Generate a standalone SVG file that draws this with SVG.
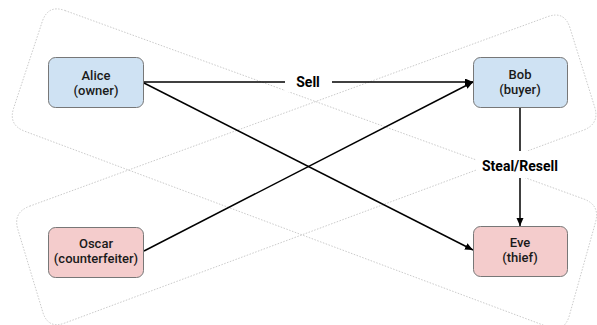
<svg xmlns="http://www.w3.org/2000/svg" width="597" height="325" viewBox="0 0 597 325">
<style>
.band{fill:none;stroke:#bdbdbd;stroke-width:0.8;stroke-dasharray:1.5,1.5}
.edge{fill:none;stroke:#000;stroke-width:1.5}
.box{stroke:#777;stroke-width:1}
.blue{fill:#cfe2f3}
.pink{fill:#f4cccc}
.t{font-family:Roboto,"Liberation Sans",Arial,sans-serif;font-size:13px;font-weight:500;fill:#1a1a1a;text-anchor:middle}
.lbl{font-family:Roboto,"Liberation Sans",Arial,sans-serif;font-size:14px;font-weight:bold;fill:#000;text-anchor:middle}
</style>
<defs>
<marker id="arr" markerUnits="userSpaceOnUse" markerWidth="9" markerHeight="8" refX="8" refY="3.5" orient="auto">
<path d="M0,0 L8,3.5 L0,7 z" fill="#000"/>
</marker>
</defs>
<g id="bands">
<path class="band" d="M64.9,10.5 L583.5,198.9 Q600.4,205 595.5,222.3 L569.3,315.7 Q564.4,333 547.5,326.7 L24.9,131.3 Q8,125 13.7,107.9 L42.3,21.5 Q48,4.4 64.9,10.5 Z"/>
<path class="band" d="M29.6,206.2 L547.6,16.7 Q564.5,10.5 569.9,27.7 L594.6,106.8 Q600,124 583.1,130.3 L64.9,323 Q48,329.3 42.8,312.1 L17.9,229.6 Q12.7,212.4 29.6,206.2 Z"/>
</g>
<g id="connectors">
<line class="edge" x1="144" y1="82" x2="473" y2="82" marker-end="url(#arr)"/>
<line class="edge" x1="144" y1="83" x2="473" y2="250" marker-end="url(#arr)"/>
<line class="edge" x1="144" y1="251" x2="473" y2="82" marker-end="url(#arr)"/>
<line class="edge" x1="520" y1="107" x2="520" y2="226" marker-end="url(#arr)"/>
<rect x="285" y="72" width="47" height="20" fill="#fff"/>
<text class="lbl" x="308" y="87">Sell</text>
<rect x="476" y="151" width="88" height="27" fill="#fff"/>
<text class="lbl" x="520" y="171">Steal/Resell</text>
</g>
<g id="alice">
<rect class="box blue" x="48.5" y="57.5" width="95" height="50" rx="7"/>
<text class="t" x="96" y="80">Alice</text>
<text class="t" x="96" y="95">(owner)</text>
</g>
<g id="bob">
<rect class="box blue" x="473.5" y="57.5" width="94" height="50" rx="7"/>
<text class="t" x="520" y="79">Bob</text>
<text class="t" x="520" y="94">(buyer)</text>
</g>
<g id="oscar">
<rect class="box pink" x="48.5" y="227.5" width="95" height="50" rx="7"/>
<text class="t" x="96" y="248">Oscar</text>
<text class="t" x="96" y="263">(counterfeiter)</text>
</g>
<g id="eve">
<rect class="box pink" x="473.5" y="226.5" width="94" height="50" rx="7"/>
<text class="t" x="520" y="247">Eve</text>
<text class="t" x="520" y="262">(thief)</text>
</g>
</svg>
